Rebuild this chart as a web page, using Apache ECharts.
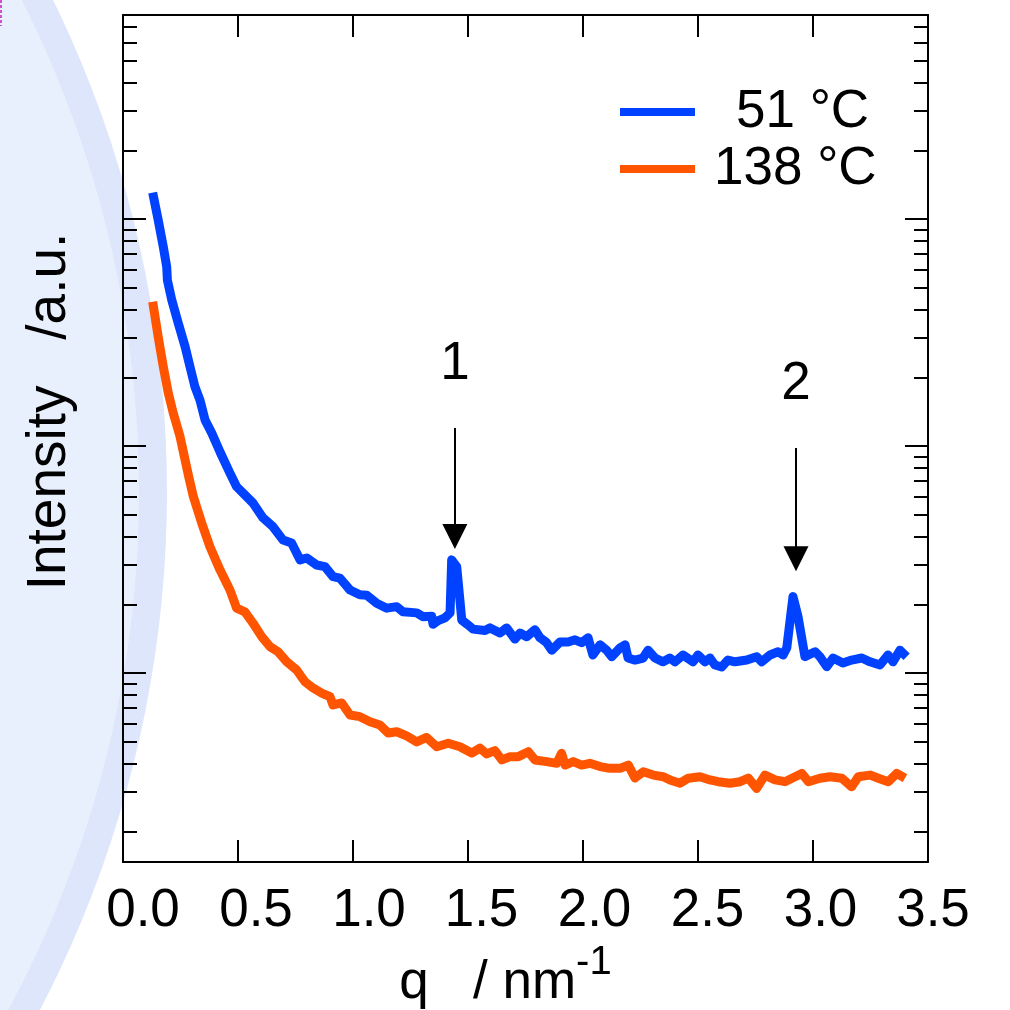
<!DOCTYPE html>
<html><head><meta charset="utf-8">
<script src="https://cdn.jsdelivr.net/npm/echarts@6/dist/echarts.min.js"></script>
<style>html,body{margin:0;padding:0;background:#fff}#c{width:1010px;height:1010px}</style>
</head><body><div id="c"></div>
<script>
// ---- data ----
const seriesNames = ['51 °C', '138 °C'];
const xTickLabels = ['0.0','0.5','1.0','1.5','2.0','2.5','3.0','3.5'];

const qBlue = [0.129,0.153,0.175,0.190,0.193,0.212,0.240,0.270,0.291,0.313,
0.335,0.357,0.386,0.422,0.465,0.494,0.538,0.565,0.609,0.652,
0.696,0.733,0.770,0.799,0.842,0.878,0.913,0.943,0.987,1.030,
1.060,1.103,1.147,1.190,1.217,1.277,1.304,1.342,1.348,1.370,
1.400,1.422,1.429,1.451,1.473,1.500,1.522,1.574,1.596,1.639,
1.668,1.704,1.726,1.755,1.791,1.813,1.842,1.864,1.900,1.935,
1.965,1.994,2.022,2.043,2.074,2.103,2.125,2.161,2.183,2.196,
2.226,2.261,2.283,2.313,2.348,2.378,2.400,2.435,2.478,2.500,
2.530,2.552,2.574,2.603,2.630,2.661,2.712,2.755,2.777,2.813,
2.848,2.870,2.886,2.913,2.935,2.965,3.009,3.030,3.060,3.087,
3.130,3.168,3.212,3.248,3.291,3.326,3.348,3.378,3.407];
const iBlue = [130.6,99.0,75.5,61.6,53.8,44.0,34.8,27.4,22.4,18.2,
15.9,13.0,11.4,9.41,7.60,6.62,5.98,5.61,4.82,4.41,
3.85,3.74,3.15,3.21,2.99,2.94,2.66,2.62,2.32,2.21,
2.20,2.03,1.93,1.96,1.86,1.84,1.77,1.78,1.64,1.70,
1.75,1.84,3.15,2.94,1.71,1.63,1.56,1.54,1.58,1.50,
1.58,1.41,1.50,1.445,1.55,1.43,1.36,1.26,1.37,1.37,
1.40,1.36,1.43,1.20,1.33,1.26,1.18,1.29,1.33,1.164,
1.14,1.164,1.26,1.164,1.12,1.164,1.12,1.20,1.12,1.20,
1.12,1.164,1.084,1.063,1.14,1.12,1.14,1.18,1.12,1.20,
1.24,1.20,1.29,2.17,1.77,1.18,1.24,1.18,1.066,1.164,
1.107,1.14,1.164,1.12,1.084,1.20,1.12,1.26,1.18];

const qOrange = [0.129,0.153,0.175,0.197,0.219,0.248,0.270,0.287,0.306,0.342,
0.378,0.422,0.465,0.494,0.530,0.565,0.603,0.639,0.674,0.712,
0.755,0.791,0.826,0.864,0.900,0.913,0.951,0.987,1.030,1.074,
1.117,1.153,1.190,1.233,1.277,1.320,1.364,1.414,1.465,1.516,
1.552,1.581,1.617,1.647,1.683,1.719,1.762,1.791,1.842,1.886,
1.907,1.922,1.958,1.994,2.030,2.074,2.117,2.161,2.197,2.226,
2.262,2.306,2.349,2.378,2.422,2.458,2.509,2.552,2.588,2.639,
2.683,2.719,2.755,2.791,2.835,2.878,2.922,2.951,2.980,3.030,
3.074,3.125,3.168,3.197,3.248,3.284,3.327,3.364,3.400];
const iOrange = [43.2,30.3,22.4,17.1,13.9,11.0,8.68,7.23,5.98,4.58,
3.60,2.84,2.32,1.93,1.86,1.66,1.445,1.306,1.24,1.12,
1.031,0.915,0.859,0.816,0.786,0.723,0.738,0.653,0.642,0.610,
0.590,0.544,0.551,0.528,0.497,0.520,0.473,0.490,0.473,0.444,
0.467,0.440,0.455,0.414,0.428,0.428,0.450,0.414,0.407,0.400,
0.443,0.393,0.407,0.393,0.400,0.387,0.380,0.380,0.393,0.345,
0.367,0.355,0.349,0.338,0.327,0.344,0.349,0.338,0.332,0.327,
0.332,0.344,0.310,0.355,0.338,0.332,0.349,0.361,0.332,0.344,
0.349,0.344,0.315,0.349,0.355,0.344,0.332,0.361,0.344];

// peak annotations (q position, arrow top / arrow-head intensity)
const peakLabels = ['1', '2'];
const peakQ = [1.443, 2.926];
const peakArrowTop = [12.0, 9.8];
const peakArrowEnd = [3.99, 3.19];

// log-axis tick values
const yMajorTicks = [1, 10, 100];
const yMinorTicks = [0.2,0.3,0.4,0.5,0.6,0.7,0.8,0.9,2,3,4,5,6,7,8,9,20,30,40,50,60,70,80,90,200,300,400,500,600,700];
const yMin = 0.147, yMax = 792;

// ---- chart ----
const FONT = "'Liberation Sans', Arial, Helvetica, sans-serif";
const BLUE = '#0042ff', ORANGE = '#ff5500';
const chart = echarts.init(document.getElementById('c'), null, {renderer: 'canvas'});

function yAx(pos, values, len, showLine) {
  return {
    type: 'log', logBase: 10, min: yMin, max: yMax, position: pos,
    axisLine: {show: showLine, onZero: false, lineStyle: {color: '#000', width: 2}},
    axisTick: {show: true, inside: true, length: len, customValues: values, lineStyle: {color: '#000', width: 2}},
    axisLabel: {show: false}, splitLine: {show: false}, minorTick: {show: false}
  };
}

const xLabelRich = {};
const xShift = [20, 18, 16, 13.5, 11.5, 9.5, 7.5, 5];
xTickLabels.forEach((t, i) => {
  xLabelRich['p' + i] = {fontSize: 53, fontFamily: FONT, color: '#000', padding: [0, 0, 0, 2 * xShift[i]]};
});

const yName = {
  name: 'Intensity   /a.u.', nameLocation: 'middle', nameGap: 46,
  nameTextStyle: {fontSize: 55, fontFamily: FONT, color: '#000', lineHeight: 55, padding: [0, 0, 0, 54]}
};

const option = {
  animation: false,
  backgroundColor: '#ffffff',
  graphic: [
    {type: 'circle', silent: true, z: -10, shape: {cx: -952, cy: 492, r: 1119}, style: {fill: '#dde6fb'}},
    {type: 'circle', silent: true, z: -10, shape: {cx: -952, cy: 492, r: 1091}, style: {fill: '#e9f0fd'}},
    {type: 'line', silent: true, z: -5, shape: {x1: 1, y1: 0, x2: 1, y2: 26}, style: {stroke: '#d050d0', lineWidth: 2, lineDash: [3, 2]}}
  ],
  grid: {left: 123, right: 82, top: 15, bottom: 148, containLabel: false, outerBoundsMode: 'none'},
  legend: {
    orient: 'vertical', left: 615, top: 80.5, itemWidth: 75, itemHeight: 8, itemGap: 4,
    icon: 'rect', selectedMode: false, data: seriesNames,
    formatter: name => (name === seriesNames[0] ? '{a|' : '{b|') + name + '}',
    textStyle: {
      fontSize: 53, fontFamily: FONT, color: '#000', lineHeight: 53,
      rich: {
        a: {fontSize: 53, fontFamily: FONT, color: '#000', lineHeight: 53, padding: [0, 0, 0, 36]},
        b: {fontSize: 53, fontFamily: FONT, color: '#000', lineHeight: 53, padding: [0, 0, 0, 14]}
      }
    }
  },
  xAxis: [
    {
      type: 'value', min: 0, max: 3.5, interval: 0.5, position: 'bottom',
      axisLine: {onZero: false, lineStyle: {color: '#000', width: 2}},
      axisTick: {inside: true, length: 22, lineStyle: {color: '#000', width: 2}},
      splitLine: {show: false},
      axisLabel: {
        margin: 23, fontSize: 53, fontFamily: FONT, color: '#000', rich: xLabelRich,
        formatter: v => { const i = Math.round(v / 0.5); return '{p' + i + '|' + xTickLabels[i] + '}'; }
      },
      name: '{a|q   / nm}{b|-1}', nameLocation: 'middle', nameGap: 76.5,
      nameTextStyle: {
        padding: [0, 40, 0, 0],
        rich: {
          a: {fontSize: 53, fontFamily: FONT, color: '#000', lineHeight: 80},
          b: {fontSize: 40, fontFamily: FONT, color: '#000', lineHeight: 40, verticalAlign: 'top'}
        }
      }
    },
    {
      type: 'value', min: 0, max: 3.5, interval: 0.5, position: 'top',
      axisLine: {onZero: false, lineStyle: {color: '#000', width: 2}},
      axisTick: {inside: true, length: 22, lineStyle: {color: '#000', width: 2}},
      splitLine: {show: false}, axisLabel: {show: false}
    }
  ],
  yAxis: [
    Object.assign(yAx('left', yMajorTicks, 23, true), yName),
    yAx('left', yMinorTicks, 14, false),
    yAx('right', yMajorTicks, 23, true),
    yAx('right', yMinorTicks, 14, false)
  ],
  series: [
    {
      type: 'line', name: seriesNames[0], xAxisIndex: 0, yAxisIndex: 0,
      data: qBlue.map((q, i) => [q, iBlue[i]]),
      showSymbol: false, symbol: 'none', z: 3,
      lineStyle: {color: BLUE, width: 9, join: 'round', cap: 'butt'},
      itemStyle: {color: BLUE},
      emphasis: {disabled: true},
      markLine: {
        silent: true, animation: false,
        symbol: ['none', 'triangle'], symbolSize: 25,
        lineStyle: {color: '#000', width: 2, type: 'solid'},
        itemStyle: {color: '#000'},
        label: {show: true, position: 'start', distance: 37, formatter: '{b}', fontSize: 53, fontFamily: FONT, color: '#000'},
        emphasis: {disabled: true},
        data: peakLabels.map((lab, i) => [
          {name: lab, coord: [peakQ[i], peakArrowTop[i]]},
          {coord: [peakQ[i], peakArrowEnd[i]]}
        ])
      }
    },
    {
      type: 'line', name: seriesNames[1], xAxisIndex: 0, yAxisIndex: 0,
      data: qOrange.map((q, i) => [q, iOrange[i]]),
      showSymbol: false, symbol: 'none', z: 3,
      lineStyle: {color: ORANGE, width: 9, join: 'round', cap: 'butt'},
      itemStyle: {color: ORANGE},
      emphasis: {disabled: true}
    }
  ]
};
chart.setOption(option);
</script>
</body></html>
